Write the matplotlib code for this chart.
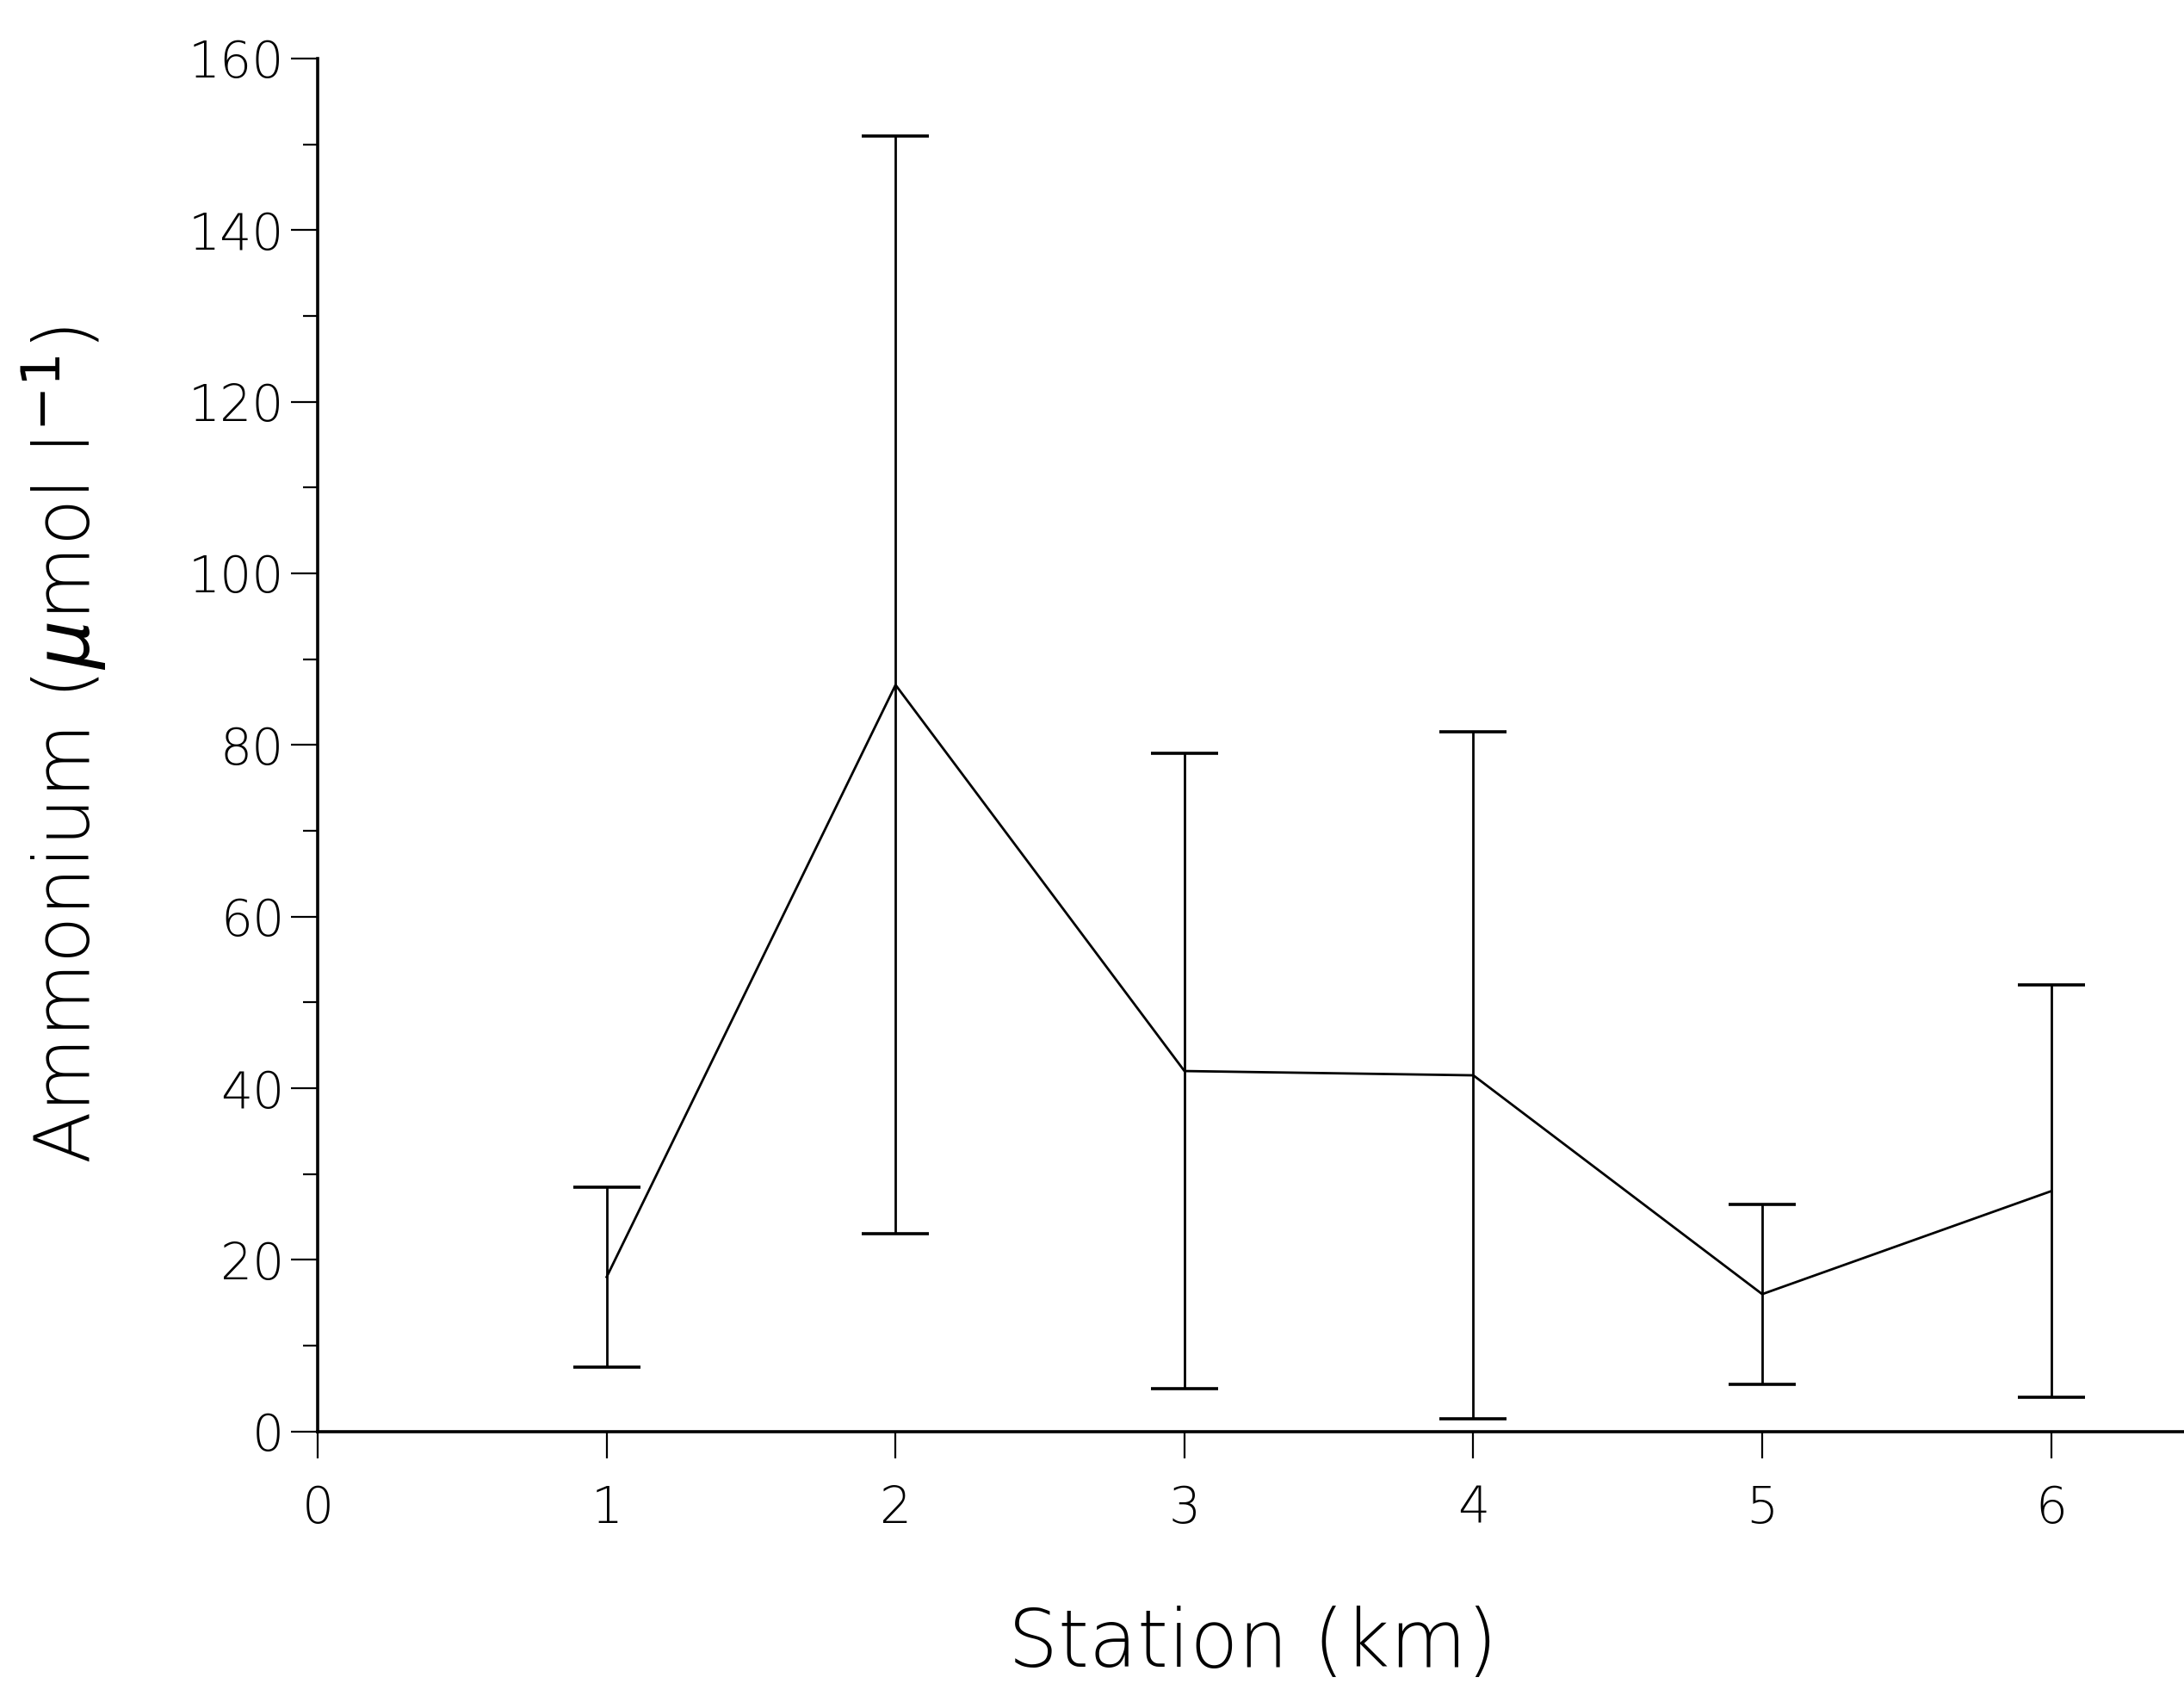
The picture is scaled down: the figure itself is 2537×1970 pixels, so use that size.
"""Ammonium concentration along the transect, mean +/- SD per station."""
import numpy as np
import matplotlib
matplotlib.use("Agg")
import matplotlib.pyplot as plt
from matplotlib.ticker import MultipleLocator

# values
station_km = [1, 2, 3, 4, 5, 6]
ammonium_mean = [18, 87, 42, 41.5, 16, 28]
ammonium_sd = [10.5, 64, 37, 40, 10.5, 24]

x_ticks = [0, 1, 2, 3, 4, 5, 6]
y_ticks = [0, 20, 40, 60, 80, 100, 120, 140, 160]

plt.rcParams["font.family"] = ["DejaVu Sans"]
plt.rcParams["mathtext.fontset"] = "dejavusans"

fig = plt.figure(figsize=(25.37, 19.70), dpi=100)
ax = fig.add_axes([0.1455, 0.156, 0.8545, 0.8095])

ax.errorbar(station_km, ammonium_mean, yerr=ammonium_sd, color="black",
            lw=2.0, elinewidth=2.0, capsize=28, capthick=2.6)

ax.set_xlim(0, 6.46)
ax.set_ylim(0, 160)
ax.set_xticks(x_ticks)
ax.set_yticks(y_ticks)
ax.yaxis.set_minor_locator(MultipleLocator(10))

for side in ("top", "right"):
    ax.spines[side].set_visible(False)
for side in ("left", "bottom"):
    ax.spines[side].set_linewidth(2.6)

ax.tick_params(axis="both", which="major", direction="out", length=22,
               width=1.6, labelsize=42)
ax.tick_params(axis="y", which="major", pad=6)
ax.tick_params(axis="x", which="major", pad=22)
ax.tick_params(axis="y", which="minor", direction="out", length=12, width=1.6)
for lab in ax.get_xticklabels() + ax.get_yticklabels():
    lab.set_fontweight("light")

ax.set_xlabel("Station (km)", fontsize=66, fontweight="light")
ax.set_ylabel(r"Ammonium ($\mu$mol l$^{-1}$)", fontsize=64, fontweight="light")
ax.xaxis.set_label_coords(0.501, -0.127)
ax.yaxis.set_label_coords(-0.112, 0.5)

fig.savefig("out.png", dpi=100)
